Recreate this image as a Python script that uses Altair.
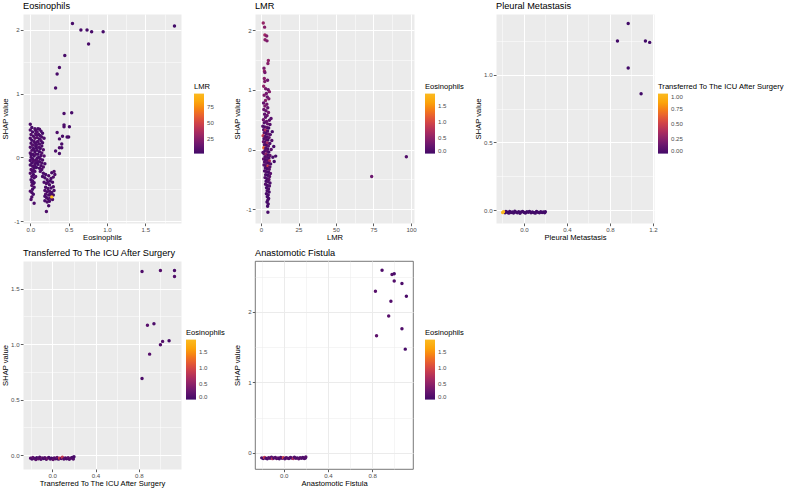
import altair as alt
import pandas as pd

FONT = "Liberation Sans"
RANGE = ["#420A68", "#6A176E", "#932667", "#BC3754", "#DD513A", "#F37819", "#FCA50A", "#FBBA1F"]

# ---------------- Panel 1: Eosinophils (colour = LMR) ----------------
eos_x_left = [0.00,0.02,0.00,0.03,0.01,0.04,0.00,0.02,0.05,0.01, 0.03,0.00,0.04,0.02,0.06,0.00,0.03,0.05,0.01,0.03,
              0.00,0.04,0.02,0.06,0.00,0.03,0.05,0.01,0.03,0.00, 0.04,0.02,0.05,0.01,0.03,0.04,0.02,0.05,0.03,0.00,
              0.02,0.01,0.05,0.06,0.07,0.06,0.07]
eos_y_left = [0.52,0.47,0.43,0.40,0.36,0.33,0.30,0.27,0.25,0.22, 0.19,0.16,0.14,0.11,0.09,0.07,0.05,0.02,0.00,-0.02,
              -0.05,-0.06,-0.09,-0.10,-0.12,-0.14,-0.17,-0.19,-0.22,-0.25, -0.27,-0.30,-0.32,-0.35,-0.37,-0.41,-0.44,-0.47,-0.50,-0.53,
              -0.55,-0.66,-0.72,0.30,0.18,-0.22,-0.04]
eos_c_left = [4.1,3.2,5.6,2.8,6.3,3.9,4.7,2.5,5.2,3.6, 7.1,4.4,2.9,5.8,3.3,6.6,4.0,2.7,5.0,3.8,
              4.6,6.9,3.1,5.4,2.6,4.9,3.5,7.4,4.2,5.9, 3.0,6.1,4.8,2.4,5.3,3.7,8.2,4.5,2.8,6.4,
              3.4,5.7,4.3,9.1,3.6,5.1,4.0]

eos_x_fill = [0.07,0.08,0.06,0.08,0.07,0.09,0.06,0.08,0.07,0.05, 0.09,0.07,0.08,0.06,0.04,0.02,0.01,0.03,0.05,0.02]
eos_y_fill = [0.42,0.35,0.22,0.15,0.05,-0.01,-0.13,-0.16,-0.30,-0.40, 0.24,0.37,-0.08,0.45,-0.58,-0.62,0.04,-0.20,0.12,-0.39]
eos_c_fill = [3.9,5.3,4.4,2.7,6.1,3.5,4.8,2.9,5.6,3.2, 4.1,6.4,3.7,5.0,2.5,4.6,3.3,5.8,4.0,3.6]

eos_x_col2 = [0.10,0.12,0.14,0.09,0.16,0.11,0.13,0.15,0.09,0.18, 0.12,0.14,0.10,0.16,0.12,0.08,0.15,0.11,0.13,0.17,
              0.09,0.12,0.15,0.10,0.14,0.18,0.11,0.13,0.16,0.09, 0.12,0.15,0.10,0.14,0.17,0.12,0.15,0.13,0.19]
eos_y_col2 = [0.45,0.44,0.41,0.40,0.38,0.36,0.34,0.32,0.31,0.30, 0.29,0.26,0.25,0.23,0.21,0.20,0.18,0.16,0.14,0.12,
              0.11,0.09,0.07,0.05,0.03,0.02,0.00,-0.02,-0.04,-0.05, -0.07,-0.09,-0.11,-0.13,-0.15,-0.17,-0.19,-0.22,-0.10]
eos_c_col2 = [3.8,5.2,4.1,6.7,2.9,4.6,3.3,5.5,7.8,4.0, 3.6,6.2,4.9,2.7,5.1,3.9,4.4,6.0,3.2,5.7,
              4.3,2.8,6.5,3.5,4.8,7.2,3.1,5.4,4.2,6.8, 3.7,5.0,2.6,4.5,6.1,3.4,5.8,4.7,3.0]

eos_x_mid = [0.17,0.20,0.24,0.28,0.31,0.19,0.22,0.26,0.30,0.18, 0.21,0.25,0.29,0.32,0.16,0.23,0.27]
eos_y_mid = [-0.25,-0.27,-0.29,-0.24,-0.22,-0.32,-0.35,-0.37,-0.31,-0.39, -0.41,-0.43,-0.39,-0.27,-0.30,-0.39,-0.33]
eos_c_mid = [4.5,3.1,5.9,2.8,6.6,3.7,4.9,2.5,5.3,3.9, 6.1,4.2,3.4,5.6,2.9,4.7,3.6]

eos_x_low = [0.20,0.23,0.27,0.30,0.19,0.22,0.25,0.28,0.31,0.20, 0.24,0.27,0.30,0.21,0.23,0.26,0.29,0.19,0.22,0.25,
             0.24,0.21,0.19,0.26,0.28]
eos_y_low = [-0.47,-0.49,-0.48,-0.46,-0.52,-0.54,-0.53,-0.55,-0.52,-0.58, -0.59,-0.60,-0.59,-0.63,-0.65,-0.64,-0.66,-0.68,-0.70,-0.69,
             -0.76,-0.85,-0.61,-0.57,-0.62]
eos_c_low = [3.3,5.0,2.7,4.4,6.2,3.8,5.5,2.9,4.1,6.9, 3.5,4.8,2.6,5.2,3.9,6.4,4.6,3.0,5.8,4.3,
             3.6,5.1,2.8,4.0,97.0]

eos_x_out = [0.55,0.66,0.74,0.80,0.95,0.76,1.88,0.45,0.38,0.35, 0.33,0.44,0.54,0.44,0.44,0.51,0.35,0.42,0.48,0.50,
             0.38,0.41,0.38,0.41,0.33,0.38]
eos_y_out = [2.10,2.00,2.00,1.97,1.97,1.78,2.06,1.60,1.41,1.31, 1.09,0.69,0.70,0.51,0.48,0.48,0.39,0.33,0.32,0.32,
             0.29,0.21,0.15,0.15,0.10,0.06]
eos_c_out = [2.9,3.4,2.6,3.1,2.4,3.8,1.2,3.5,4.2,3.0, 3.7,4.5,2.8,3.9,4.6,3.2,5.1,3.6,2.7,4.0,
             4.8,3.3,5.4,3.1,4.4,3.6]

eos_x = eos_x_left + eos_x_fill + eos_x_col2 + eos_x_mid + eos_x_low + eos_x_out
eos_y = eos_y_left + eos_y_fill + eos_y_col2 + eos_y_mid + eos_y_low + eos_y_out
eos_lmr = eos_c_left + eos_c_fill + eos_c_col2 + eos_c_mid + eos_c_low + eos_c_out

# ---------------- Panel 2: LMR (colour = Eosinophils) ----------------
lmr_x_up = [1.5,2.4,2.6,3.8,2.7,4.0,4.9,4.6,2.0,2.3, 2.6,2.2,4.4,2.5,1.8,3.1,4.8,5.6,3.6,2.1,
            4.2,5.2,3.0,1.7,3.9,2.6,4.5,1.9,3.3,5.0, 2.4,4.1,3.0,6.7,1.6,5.6,3.7,2.2,4.4,6.0]
lmr_y_up = [2.12,2.05,1.92,1.90,1.84,1.82,1.49,1.44,1.36,1.31, 1.29,1.19,1.16,1.14,1.06,1.02,1.00,0.97,0.94,0.91,
            0.88,0.85,0.82,0.78,0.76,0.73,0.70,0.67,0.65,0.62, 0.59,0.57,0.54,0.52,0.50,0.49,0.47,0.45,0.43,0.42]
lmr_c_up = [0.55,0.45,0.62,0.41,0.48,0.38,0.52,0.44,0.36,0.58, 0.33,0.47,0.29,0.40,0.51,0.35,0.27,0.43,0.31,0.39,
            0.25,0.34,0.46,0.22,0.30,0.37,0.20,0.28,0.24,0.33, 0.18,0.26,0.21,0.15,0.30,0.19,0.23,0.14,0.27,0.12]

lmr_x_mid = [1.2,2.5,3.8,5.1, 1.8,3.0,4.4,7.5, 2.2,3.5,4.9,6.2, 1.4,2.8,4.1,5.4, 2.0,3.3,4.6,7.2,
             1.6,2.9,4.2,5.9, 2.3,3.6,4.9,8.5, 1.9,3.2,4.5,6.8, 2.6,3.9,5.2,1.3, 2.1,3.4,4.7,6.0,
             9.8,2.7,4.0,5.3,7.9, 1.7,3.0,4.3,5.6, 8.8,2.4,3.7,5.0,6.4, 2.0,3.3,4.6,5.9, 2.9,4.2,5.5]
lmr_y_mid = [0.39,0.38,0.37,0.36, 0.33,0.32,0.31,0.30, 0.28,0.27,0.26,0.25, 0.23,0.22,0.21,0.20, 0.18,0.17,0.16,0.15,
             0.13,0.12,0.11,0.10, 0.08,0.07,0.06,0.05, 0.03,0.02,0.01,0.00, -0.02,-0.03,-0.04,-0.05, -0.07,-0.08,-0.09,-0.10,
             -0.11,-0.12,-0.13,-0.14,-0.13, -0.16,-0.17,-0.18,-0.19, -0.20,-0.21,-0.22,-0.23,-0.24, -0.26,-0.27,-0.28,-0.29,
             -0.31,-0.32,-0.33]
lmr_c_mid = [0.12,0.08,0.21,0.05, 0.16,0.72,0.10,0.03, 0.19,0.07,0.25,0.11, 0.85,0.14,0.06,0.22, 0.09,0.18,0.04,0.13,
             0.27,0.10,0.62,0.08, 0.15,0.05,0.20,0.02, 1.20,0.12,0.07,0.17, 0.09,0.23,0.04,0.11, 0.14,0.55,0.06,0.19,
             0.03,0.10,0.16,0.08,0.05, 0.21,0.07,0.13,0.68, 0.04,0.11,0.18,0.06,0.09, 0.15,0.08,0.92,0.12,
             0.10,0.05,0.14]

lmr_x_low = [2.4,3.7,5.0,6.3,3.1,4.4,5.7,2.7,4.0,5.3, 3.4,4.7,6.0,3.0,4.3,5.6,3.7,5.0,4.1,5.4,
             3.6,4.8,4.2,5.1,4.5,4.0,4.8,4.4,4.6, 73.8,96.9]
lmr_y_low = [-0.36,-0.37,-0.38,-0.40,-0.42,-0.43,-0.45,-0.47,-0.49,-0.50, -0.53,-0.54,-0.56,-0.58,-0.60,-0.61,-0.64,-0.66,-0.69,-0.71,
             -0.74,-0.76,-0.79,-0.82,-0.85,-0.88,-0.91,-0.95,-1.05, -0.45,-0.12]
lmr_c_low = [0.06,0.11,0.04,0.15,0.08,0.02,0.13,0.09,0.05,0.17, 0.03,0.10,0.07,0.12,0.04,0.08,0.02,0.06,0.09,0.03,
             0.05,0.07,0.02,0.04,0.06,0.03,0.05,0.02,0.04, 0.28,0.10]

lmr_x = lmr_x_up + lmr_x_mid + lmr_x_low
lmr_y = lmr_y_up + lmr_y_mid + lmr_y_low
lmr_eos = lmr_c_up + lmr_c_mid + lmr_c_low

# ---------------- Panel 3: Pleural Metastasis (colour = ICU transfer) ----------------
pm_x = [-0.176,-0.168,-0.155,-0.141,-0.133,-0.120,-0.108,-0.097, -0.085,-0.071,-0.062,-0.049,-0.037,-0.026,-0.012,0.003,
        0.014,0.027,0.041,0.052,0.066,0.078,0.091,0.105,0.117,0.130,0.144,0.156,0.169,0.181,0.193,0.199,
        -0.198,-0.190,
        0.97,0.87,1.13,1.17,0.97,1.09]
pm_y = [-0.021,-0.010,-0.016,-0.023,-0.011,-0.019,-0.014,-0.022, -0.009,-0.017,-0.020,-0.013,-0.024,-0.015,-0.011,-0.019,
        -0.022,-0.012,-0.017,-0.010,-0.021,-0.014,-0.018,-0.023,-0.011,-0.016,-0.020,-0.013,-0.019,-0.015,-0.021,-0.012,
        -0.018,-0.012,
        1.38,1.25,1.25,1.24,1.05,0.86]
pm_icu = [0,0,0,0,0,0,0,0, 0,0,0,0,0,0,0,0,
          0,0,0,0,0,0,0,0,0,0,0,0,0,0,0,0,
          1,1,
          0,0,0,0,0,0]

# ---------------- Panel 4: Transferred To The ICU After Surgery (colour = Eosinophils) ----------------
icu_x = [-0.200,-0.187,-0.179,-0.164,-0.151,-0.143,-0.128,-0.116,-0.104,-0.093, -0.079,-0.068,-0.054,-0.043,-0.031,-0.018,-0.006,0.008,0.019,0.033,
         0.045,0.058,0.069,0.083,0.094,0.108,0.121,0.133,0.147,0.158, 0.172,0.184,0.195,0.201,
         0.83,1.00,1.13,1.13,0.88,0.94,1.02,1.08,1.00,0.90,0.83]
icu_y = [-0.028,-0.036,-0.022,-0.031,-0.040,-0.025,-0.034,-0.019,-0.038,-0.027, -0.032,-0.024,-0.039,-0.029,-0.021,-0.035,-0.030,-0.041,-0.026,-0.033,
         -0.023,-0.037,-0.028,-0.031,-0.020,-0.036,-0.027,-0.034,-0.024,-0.039, -0.030,-0.022,-0.035,-0.015,
         1.655,1.665,1.665,1.61,1.17,1.185,1.025,1.03,0.995,0.91,0.69]
icu_eos = [0.12,0.05,0.21,0.08,0.15,0.03,0.18,0.10,0.07,0.25, 0.04,0.14,0.09,0.31,0.06,0.11,0.02,0.19,0.13,0.08,
           0.22,0.05,0.95,0.10,0.85,0.07,0.12,0.04,0.20,0.09, 0.14,0.06,0.11,0.03,
           0.08,0.12,0.05,0.10,0.15,0.07,0.11,0.04,0.09,0.13,0.06]

# ---------------- Panel 5: Anastomotic Fistula (colour = Eosinophils) ----------------
af_x = [-0.199,-0.185,-0.174,-0.161,-0.149,-0.137,-0.124,-0.111,-0.101,-0.089, -0.076,-0.064,-0.051,-0.040,-0.028,-0.015,-0.003,0.010,0.022,0.035,
        0.047,0.060,0.072,0.086,0.097,0.110,0.123,0.136,0.148,0.161, 0.173,0.186,0.196,0.200,
        0.89,0.98,1.00,1.00,1.07,0.83,1.11,0.97,0.95,1.07,0.84,1.10]
af_y = [-0.072,-0.081,-0.066,-0.077,-0.085,-0.070,-0.079,-0.063,-0.083,-0.073, -0.068,-0.080,-0.075,-0.086,-0.065,-0.078,-0.071,-0.084,-0.069,-0.076,
        -0.082,-0.067,-0.074,-0.080,-0.064,-0.079,-0.072,-0.085,-0.070,-0.077, -0.066,-0.081,-0.073,-0.060,
        2.59,2.53,2.54,2.435,2.40,2.29,2.22,2.15,1.94,1.76,1.66,1.47]
af_eos = [0.10,0.06,0.90,0.14,0.04,0.18,0.08,0.12,0.75,0.05, 0.16,0.09,0.22,0.03,0.11,0.07,0.95,0.13,0.06,0.19,
          0.08,0.15,0.04,0.70,0.10,0.12,0.05,0.17,0.09,0.14, 0.07,0.11,0.06,0.13,
          0.08,0.12,0.05,0.10,0.07,0.14,0.06,0.11,0.15,0.09,0.18,0.04]

LMR_DOMAIN = [min(eos_lmr), max(eos_lmr)]
EOS_DOMAIN = [0.0, max(eos_x)]


def make_axis(title, major, minor, fmt, grid_color, orient, w, h):
    test = "indexof(%s, datum.value) >= 0" % repr(minor)
    if fmt == "int":
        lab = "%s ? '' : '' + datum.value" % test
    else:
        lab = "%s ? '' : format(datum.value, '%s')" % (test, fmt)
    kw = dict(
        title=title, values=major + minor, labelExpr=lab, grid=True, gridColor=grid_color,
        gridWidth={"condition": {"test": test, "value": 0.5}, "value": 1.0},
        tickOpacity={"condition": {"test": test, "value": 0}, "value": 1},
        domain=False, ticks=True, tickSize=2.7, tickWidth=0.8, tickColor="#333333",
        labelFont=FONT, labelFontSize=6.1, labelColor="#4D4D4D", labelPadding=1.2,
        titleFont=FONT, titleFontSize=7.6, titleColor="black", titleFontWeight="normal",
        labelOverlap=False,
    )
    if orient == "x":
        kw.update(titleX=w / 2, titleY=10, titleBaseline="top", titleAlign="center")
    else:
        kw.update(titleX=-14, titleY=h / 2, titleBaseline="bottom", titleAlign="center", titleAngle=270)
    return alt.Axis(**kw)


def panel(x, y, c, title, xtitle, ctitle, xdom, ydom, xmaj, xmin, ymaj, ymin, xfmt, yfmt,
          cdom, cvals, cfmt, w, h, lx, ly, bw=False):
    df = pd.DataFrame({"x": x, "y": y, "c": c})
    grid_color = "#EBEBEB" if bw else "#FFFFFF"
    view = alt.ViewBackground(fill="#FFFFFF", stroke="#555555", strokeWidth=0.8) if bw else \
        alt.ViewBackground(fill="#EBEBEB", stroke="transparent")
    return alt.Chart(df).mark_circle(size=12, opacity=1).encode(
        x=alt.X("x:Q", scale=alt.Scale(domain=xdom, nice=False, zero=False),
                axis=make_axis(xtitle, xmaj, xmin, xfmt, grid_color, "x", w, h)),
        y=alt.Y("y:Q", scale=alt.Scale(domain=ydom, nice=False, zero=False),
                axis=make_axis("SHAP value", ymaj, ymin, yfmt, grid_color, "y", w, h)),
        color=alt.Color("c:Q", scale=alt.Scale(domain=cdom, range=RANGE),
                        legend=alt.Legend(
                            title=ctitle, orient="none", legendX=lx, legendY=ly, direction="vertical",
                            gradientLength=60, gradientThickness=10, gradientStrokeWidth=0,
                            values=cvals, format=cfmt, labelOverlap=False,
                            titleFont=FONT, titleFontSize=7.6, titleFontWeight="normal", titleColor="black",
                            titlePadding=3, titleLimit=400,
                            labelFont=FONT, labelFontSize=6.1, labelColor="#4D4D4D", labelOffset=3)),
    ).properties(
        width=w, height=h, view=view,
        title=alt.TitleParams(text=title, anchor="start", frame="group", fontSize=9.2, font=FONT,
                              fontWeight="normal", color="black", offset=3),
    )


def spacer(w, h):
    return alt.Chart(pd.DataFrame({"s": [0]})).mark_point(opacity=0).encode(
        x=alt.value(0), y=alt.value(0)
    ).properties(width=w, height=h, view=alt.ViewBackground(fill="transparent", stroke="transparent"))


p1 = panel(eos_x, eos_y, eos_lmr, "Eosinophils", "Eosinophils", "LMR",
           [-0.095, 1.965], [-1.03, 2.25], [0, 0.5, 1.0, 1.5], [0.25, 0.75, 1.25, 1.75],
           [-1, 0, 1, 2], [-0.5, 0.5, 1.5], ".1f", "int",
           LMR_DOMAIN, [25, 50, 75], "d", 158, 209, 171, 69)
p2 = panel(lmr_x, lmr_y, lmr_eos, "LMR", "LMR", "Eosinophils",
           [-4, 102], [-1.23, 2.27], [0, 25, 50, 75, 100], [12.5, 37.5, 62.5, 87.5],
           [-1, 0, 1, 2], [-0.5, 0.5, 1.5], "int", "int",
           EOS_DOMAIN, [0.0, 0.5, 1.0, 1.5], ".1f", 159, 209, 170, 69)
p3 = panel(pm_x, pm_y, pm_icu, "Pleural Metastasis", "Pleural Metastasis", "Transferred To The ICU After Surgery",
           [-0.26, 1.21], [-0.096, 1.45], [0.0, 0.4, 0.8, 1.2], [-0.2, 0.2, 0.6, 1.0],
           [0.0, 0.5, 1.0], [0.25, 0.75, 1.25], ".1f", ".1f",
           [0, 1], [0, 0.25, 0.5, 0.75, 1.0], ".2f", 158, 209, 162, 69)
p4 = panel(icu_x, icu_y, icu_eos, "Transferred To The ICU After Surgery", "Transferred To The ICU After Surgery", "Eosinophils",
           [-0.27, 1.19], [-0.126, 1.75], [0.0, 0.4, 0.8], [-0.2, 0.2, 0.6, 1.0],
           [0.0, 0.5, 1.0, 1.5], [0.25, 0.75, 1.25], ".1f", ".1f",
           EOS_DOMAIN, [0.0, 0.5, 1.0, 1.5], ".1f", 158, 208, 163, 68)
p5 = panel(af_x, af_y, af_eos, "Anastomotic Fistula", "Anastomotic Fistula", "Eosinophils",
           [-0.26, 1.17], [-0.23, 2.72], [0.0, 0.4, 0.8], [-0.2, 0.2, 0.6, 1.0],
           [0, 1, 2], [0.5, 1.5, 2.5], ".1f", "int",
           EOS_DOMAIN, [0.0, 0.5, 1.0, 1.5], ".1f", 158, 208, 170, 68, bw=True)

chart = alt.concat(
    p1, spacer(74, 10), p2, spacer(82, 10), p3,
    p4, spacer(74, 10), p5,
    columns=5, spacing={"row": 38, "column": 0}, bounds="flush",
).resolve_scale(x="independent", y="independent", color="independent").properties(
    padding={"left": 0, "top": 1, "right": 0, "bottom": 0},
    background="white",
).configure(font=FONT)

chart.save("out.html", embed_options={"renderer": "svg", "actions": False})
